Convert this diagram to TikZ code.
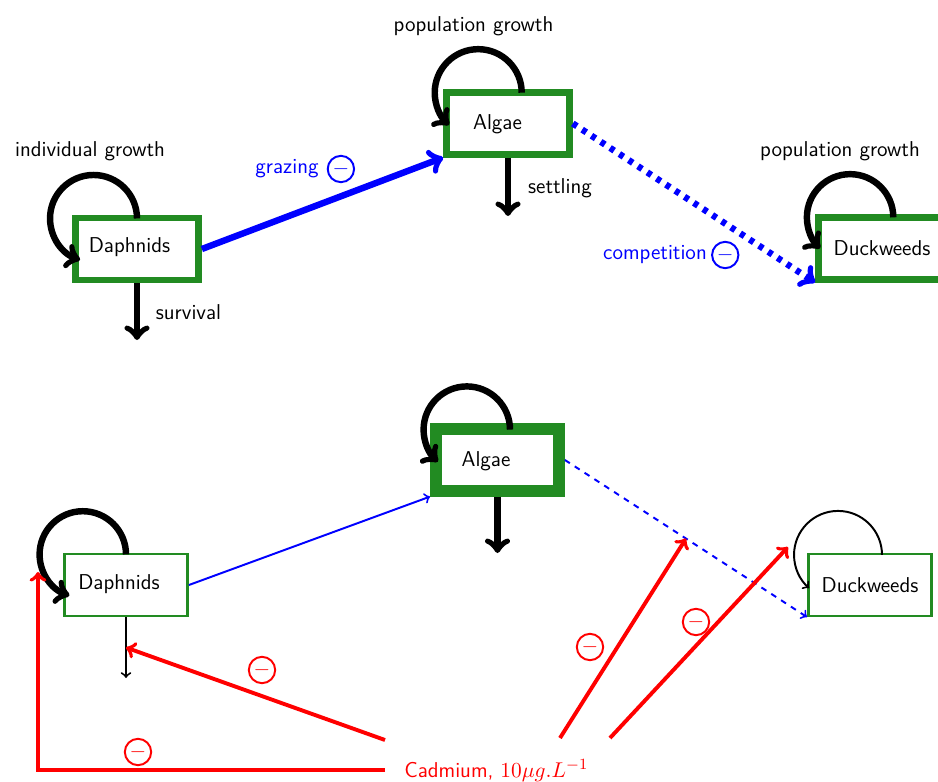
\documentclass[tikz,border=0pt]{standalone}
\usepackage{xcolor}
\usepackage{tikz}
\usetikzlibrary{arrows,positioning}

\definecolor{leafgreen}{RGB}{34,139,34}

\tikzset{
    species/.style={draw=leafgreen, rectangle, minimum width=2.22cm, minimum height=1.11cm},
    spname/.style={font=\fontsize{11}{13}\selectfont\sffamily, inner sep=0pt},
    lbl/.style={font=\fontsize{11}{13}\selectfont\sffamily, inner sep=0pt},
    negsign/.style={circle, draw, line width=1pt, minimum size=13.5pt, inner sep=0pt, font=\fontsize{11}{13}\selectfont},
    effect/.style={->, red, line width=2pt}
}

\begin{document}
\begin{tikzpicture}[x=0.018cm, y=-0.018cm]
                \useasboundingbox (0,0) rectangle (938,782);
                \clip (0,0) rectangle (938,782);

                \node[species, line width=3.3pt] (dT) at (137,249) {};
                \node[species, line width=3.3pt] (aT) at (508,123.5) {};
                \node[species, line width=3.3pt, minimum width=2.6cm] (wT) at (890.5,248.5) {};
                \node[spname] (dTn) at (129.5,247.5) {Daphnids};
                \node[spname] (aTn) at (497.5,124) {Algae};
                \node[spname] (wTn) at (882,248.5) {Duckweeds};

                \node[lbl] (dTg) at (90,151) {individual growth};
                \node[lbl] (aTg) at (473.5,26) {population growth};
                \node[lbl] (wTg) at (840,151.5) {population growth};
                \node[lbl] (dTl) at (188.5,312.5) {survival};
                \node[lbl] (aTl) at (560,188.5) {settling};
                \node[lbl, blue] (gz) at (287,169) {grazing};
                \node[negsign, blue, right=4pt of gz] (gzm) {$-$};
                \node[lbl, blue] (cp) at (655,255) {competition};
                \node[negsign, blue, right=2pt of cp] (cpm) {$-$};

                \coordinate (dTs) at (137,340);
                \coordinate (aTs) at (508,216);

                \draw[
                    ->,
                    line width=3.3pt
                ] ([shift={(0,3.5)}]dT.north) arc[start angle=0, end angle=252, radius=0.783cm];

                \draw[
                    ->,
                    line width=3.3pt
                ] ([shift={(13.7,3.2)}]aT.north) arc[start angle=0, end angle=228, radius=0.783cm];

                \draw[
                    ->,
                    line width=3.3pt
                ] ([shift={(2.8,2.9)}]wT.north) arc[start angle=0, end angle=226, radius=0.778cm];

                \draw[->, line width=3.3pt] (dT.south) -- (dTs);
                \draw[->, line width=3.3pt] (aT.south) -- (aTs);

                \draw[
                    ->,
                    blue,
                    line width=3.3pt
                ] (dT.east) -- (aT.south west);

                \draw[
                    ->,
                    blue,
                    line width=3.3pt,
                    dash pattern=on 2.5pt off 3.2pt
                ] (aT.east) -- (wT.south west);

                \node[species, line width=1.3pt] (dB) at (126,585) {};
                \node[species, line width=5.9pt] (aB) at (497.5,460) {};
                \node[species, line width=1.3pt] (wB) at (870,585) {};
                \node[spname] (dBn) at (119,584) {Daphnids};
                \node[spname] (aBn) at (486,461) {Algae};
                \node[spname] (wBn) at (870,585) {Duckweeds};

                \coordinate (dBs) at (126,678);
                \coordinate (aBs) at (497.5,553);
                \coordinate (dBloop) at (38,572);
                \coordinate (wBloop) at (788,547);

                \draw[
                    ->,
                    line width=3.3pt
                ] ([shift={(0,1.5)}]dB.north) arc[start angle=0, end angle=252, radius=0.778cm];

                \draw[
                    ->,
                    line width=3.3pt
                ] ([shift={(12.5,6.2)}]aB.north) arc[start angle=0, end angle=228, radius=0.778cm];

                \draw[
                    ->,
                    line width=1pt
                ] ([shift={(12,2)}]wB.north) arc[start angle=0, end angle=229, radius=0.792cm];

                \draw[->, line width=1pt] (dB.south) -- coordinate[pos=.5] (dBmid) (dBs);
                \draw[->, line width=3.3pt] (aB.south) -- (aBs);

                \draw[->, blue, line width=1pt] (dB.east) -- (aB.south west);
                \draw[->, blue, line width=1pt, dashed] (aB.east) -- coordinate[pos=.5] (compB) (wB.south west);

                \node[lbl, red, anchor=base west] (cd) at (404,777) {Cadmium, $10\mu g.L^{-1}$};
                \coordinate (cd1) at (385,740);
                \coordinate (cd2) at (385,770);
                \coordinate (cd3) at (560,738);
                \coordinate (cd4) at (610,738);

                \draw[effect] (cd1) -- (dBmid);
                \draw[effect] (cd2) -| (dBloop);
                \draw[effect] (cd3) -- (compB);
                \draw[effect] (cd4) -- (wBloop);

                \node[negsign, red] (m1) at (262,670) {$-$};
                \node[negsign, red] (m2) at (138,752) {$-$};
                \node[negsign, red] (m3) at (590,647) {$-$};
                \node[negsign, red] (m4) at (696,622) {$-$};

            \end{tikzpicture}
\end{document}
